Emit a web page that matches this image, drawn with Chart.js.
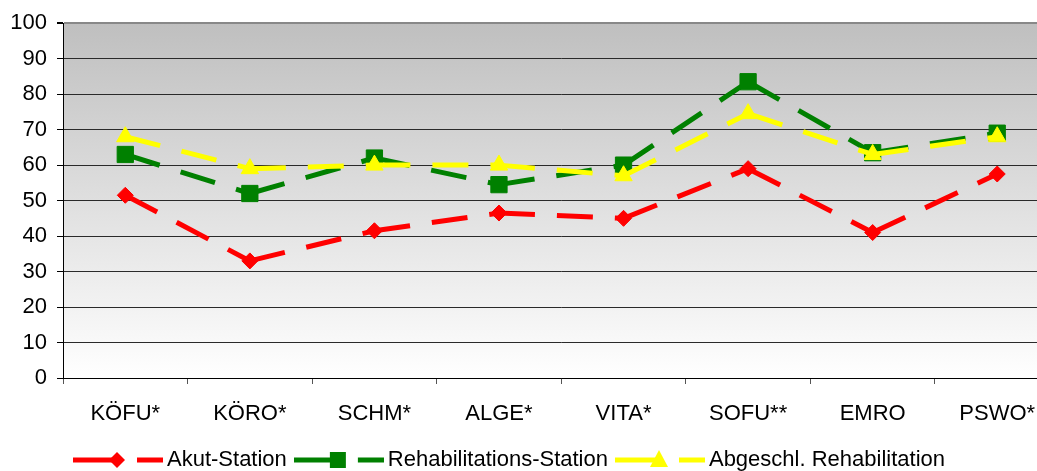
<!DOCTYPE html>
<html>
<head>
<meta charset="utf-8">
<script src="https://cdn.jsdelivr.net/npm/chart.js@4.4.0/dist/chart.umd.min.js"></script>
<style>
  html, body { margin: 0; padding: 0; background: #fff; overflow: hidden; }
  #wrap { width: 1037px; height: 471px; overflow: hidden; }
</style>
</head>
<body>
<div id="wrap"><canvas id="chart" width="1072" height="471"></canvas></div>
<script>
const stations = ["KÖFU*", "KÖRO*", "SCHM*", "ALGE*", "VITA*", "SOFU**", "EMRO", "PSWO*"];
const akut = [51.5, 33, 41.5, 46.5, 45, 59, 41, 57.5];
const reha = [63, 52, 62, 54.5, 60, 83.5, 63.5, 69];
const abgeschl = [68, 59, 60, 60, 57, 74.5, 63, 68];
const seriesNames = ["Akut-Station", "Rehabilitations-Station", "Abgeschl. Rehabilitation"];

const FONT = "'Liberation Sans', Arial, sans-serif";

// small line + marker + dash picture for the legend, like the office legend
const legendSymbol = (color, shape) => {
  const c = document.createElement("canvas");
  c.width = 90;
  c.height = 22;
  const g = c.getContext("2d");
  g.fillStyle = color;
  g.fillRect(0, 8.5, 44, 5);
  g.fillRect(64, 8.5, 26, 5);
  g.beginPath();
  if (shape === "diamond") {
    g.moveTo(44, 3); g.lineTo(52, 11); g.lineTo(44, 19); g.lineTo(36, 11);
  } else if (shape === "square") {
    g.rect(36, 3, 16, 16);
  } else {
    g.moveTo(44, 1); g.lineTo(53, 18); g.lineTo(35, 18);
  }
  g.closePath();
  g.fill();
  return c;
};

const symbols = [
  legendSymbol("#ff0000", "diamond"),
  legendSymbol("#008000", "square"),
  legendSymbol("#ffff00", "triangle"),
];

const plotBackground = {
  id: "plotBackground",
  beforeDraw(chart) {
    const { ctx, chartArea: a } = chart;
    const grad = ctx.createLinearGradient(0, a.top, 0, a.bottom);
    grad.addColorStop(0, "#bfbfbf");
    grad.addColorStop(1, "#ffffff");
    ctx.save();
    ctx.fillStyle = grad;
    ctx.fillRect(a.left, a.top, a.right - a.left, a.bottom - a.top);
    ctx.restore();
  },
  afterLayout(chart) {
    const lg = chart.legend;
    lg.left -= 23;
    lg.right -= 23;
    lg.top += 10;
    lg.bottom += 10;
  },
};

const lineSet = (label, data, color, style, radius, order) => ({
  label,
  data,
  borderColor: color,
  backgroundColor: color,
  borderWidth: 5,
  borderDash: [36, 22],
  borderCapStyle: "butt",
  tension: 0,
  pointStyle: style,
  pointRadius: radius,
  pointHoverRadius: radius,
  pointBorderWidth: 1,
  pointBorderColor: color,
  pointBackgroundColor: color,
  order,
  // restart the dash at every point
  segment: { borderDashOffset: (ctx) => ctx.p0DataIndex * 0.001 },
});

const ctx = document.getElementById("chart");
const chart = new Chart(ctx, {
  type: "line",
  data: {
    labels: stations,
    datasets: [
      lineSet(seriesNames[0], akut, "#ff0000", "rectRot", 8, 2),
      lineSet(seriesNames[1], reha, "#008000", "rect", 11.5, 1),
      lineSet(seriesNames[2], abgeschl, "#ffff00", "triangle", 10, 0),
    ],
  },
  plugins: [plotBackground],
  options: {
    responsive: false,
    animation: false,
    devicePixelRatio: 1,
    layout: { padding: { top: 22, right: 1, left: 0, bottom: 0 } },
    plugins: {
      tooltip: { enabled: false },
      legend: {
        position: "bottom",
        labels: {
          usePointStyle: true,
          pointStyleWidth: 76,
          padding: 14,
          color: "#000",
          font: { size: 22, family: FONT },
          generateLabels: (chart) =>
            chart.data.datasets.map((ds, i) => ({
              text: ds.label,
              pointStyle: symbols[i],
              fillStyle: ds.borderColor,
              strokeStyle: ds.borderColor,
              lineWidth: 0,
              fontColor: "#000",
              hidden: false,
              datasetIndex: i,
            })),
        },
      },
    },
    scales: {
      x: {
        offset: true,
        grid: { offset: true, drawOnChartArea: false, tickLength: 6, color: "#000", tickColor: "#555" },
        border: { color: "#000", width: 1 },
        ticks: {
          color: "#000",
          font: { size: 22, family: FONT },
          padding: 17,
          maxRotation: 0,
          autoSkip: false,
        },
        afterFit(scale) {
          scale.height = 47;
        },
      },
      y: {
        min: 0,
        max: 100,
        ticks: { stepSize: 10, color: "#000", font: { size: 22, family: FONT }, padding: 10 },
        grid: {
          color: (c) => (c.tick && c.tick.value === 100 ? "#888" : "#2a2a2a"),
          lineWidth: (c) => (c.tick && c.tick.value === 100 ? 2 : 1),
          tickLength: 6,
          tickColor: "#000",
        },
        border: { color: "#000", width: 1 },
        afterFit(scale) {
          scale.width = 63;
        },
      },
    },
  },
});
</script>
</body>
</html>
